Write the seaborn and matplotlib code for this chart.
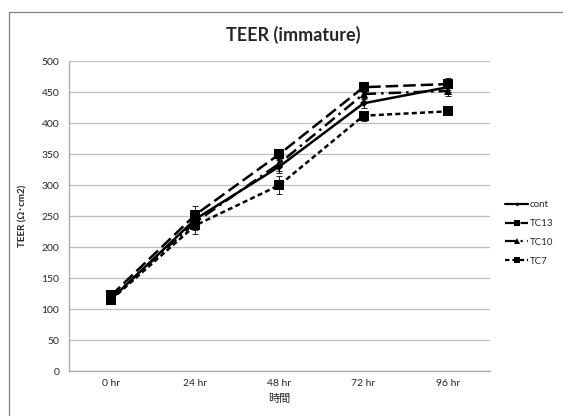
import pandas as pd
import seaborn as sns
import matplotlib.pyplot as plt
from matplotlib.lines import Line2D

# Values
times = ['0 hr', '24 hr', '48 hr', '72 hr', '96 hr']
cont = [116, 245, 330, 432, 458]
tc13 = [122, 252, 350, 458, 463]
tc10 = [118, 240, 335, 447, 452]
tc7 = [115, 235, 300, 412, 419]
cont_err = [4, 12, 10, 8, 8]
tc13_err = [4, 15, 8, 8, 10]
tc10_err = [4, 12, 12, 8, 8]
tc7_err = [4, 14, 14, 8, 6]
series_names = ['cont', 'TC13', 'TC10', 'TC7']

values = {'cont': cont, 'TC13': tc13, 'TC10': tc10, 'TC7': tc7}
errors = {'cont': cont_err, 'TC13': tc13_err, 'TC10': tc10_err, 'TC7': tc7_err}

df = pd.DataFrame([
    {'time': t, 'series': name, 'TEER': v}
    for name in series_names
    for t, v in zip(times, values[name])
])

sns.set_style('white')
plt.rcParams['font.family'] = ['Lato', 'Noto Sans CJK JP', 'DejaVu Sans']

fig = plt.figure(figsize=(5.63, 4.16), dpi=100)
ax = fig.add_axes([0.1226, 0.108, 0.7474, 0.745])

dashes = {'cont': '', 'TC13': (5, 2), 'TC10': (5, 2, 1, 2), 'TC7': (2, 1.3)}
markers = {'cont': 'D', 'TC13': 's', 'TC10': '^', 'TC7': 's'}
msizes = {'cont': 4, 'TC13': 7, 'TC10': 6, 'TC7': 7}

for name in series_names:
    ax.errorbar(times, values[name], yerr=errors[name], fmt='none',
                ecolor='black', elinewidth=0.6, capsize=2.5, capthick=0.6, zorder=2)

sns.lineplot(data=df, x='time', y='TEER', hue='series', style='series',
             palette=['black'] * 4, dashes=dashes, markers=markers,
             sort=False, linewidth=1.8, markersize=6, markeredgewidth=0,
             ax=ax, zorder=3, legend=False)

# per-series marker sizes
for line, name in zip(ax.lines[-4:], series_names):
    line.set_markersize(msizes[name])

ax.set_xlim(-0.5, 4.5)
ax.set_ylim(0, 500)
ax.set_yticks(range(0, 501, 50))
ax.yaxis.grid(True, color='#BFBFBF', linewidth=0.9)
ax.xaxis.grid(False)
ax.set_axisbelow(True)
for side in ['top', 'right']:
    ax.spines[side].set_visible(False)
for side in ['left', 'bottom']:
    ax.spines[side].set_color('#A6A6A6')
    ax.spines[side].set_linewidth(0.9)

ax.tick_params(axis='y', length=4, color='#A6A6A6', labelsize=7.5, pad=3)
ax.tick_params(axis='x', length=0, labelsize=7.5, pad=6)
ax.set_xticks([i + 0.5 for i in range(len(times))], minor=True)
ax.tick_params(axis='x', which='minor', length=4, color='#A6A6A6', direction='inout')

ax.set_xlabel('時間', fontsize=8, labelpad=3)
ax.set_ylabel('TEER (Ω･cm2)', fontsize=7, fontweight='bold', labelpad=10)

fig.text(0.52, 0.916, 'TEER (immature)', ha='center', va='center',
         fontsize=13, fontweight='bold')

handles = []
for n in series_names:
    h = Line2D([], [], color='black', linewidth=1.6, marker=markers[n],
               markersize=msizes[n] - 2, markeredgewidth=0)
    if dashes[n]:
        h.set_dashes(dashes[n])
    handles.append(h)
fig.legend(handles, series_names, loc='center left', bbox_to_anchor=(0.897, 0.44),
           frameon=False, fontsize=7, handlelength=2.4, handletextpad=0.15,
           labelspacing=1.0, borderaxespad=0, borderpad=0)

# chart area border
fig.add_artist(Line2D([9 / 563, 9 / 563], [0, 1 - 12 / 416], color='#7F7F7F', linewidth=0.9))
fig.add_artist(Line2D([9 / 563, 1], [1 - 12 / 416, 1 - 12 / 416], color='#7F7F7F', linewidth=0.9))

fig.savefig('out.png', dpi=100)
